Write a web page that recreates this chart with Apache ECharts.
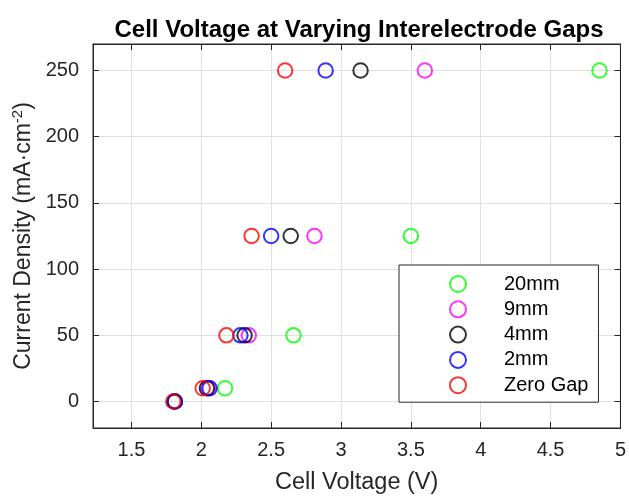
<!DOCTYPE html>
<html lang="en">
<head>
    <meta charset="UTF-8">
    <title>Cell Voltage at Varying Interelectrode Gaps</title>
    <script src="https://cdn.jsdelivr.net/npm/echarts@6/dist/echarts.min.js"></script>
    <style>
      html, body { margin: 0; padding: 0; background: #fff; }
      #main { width: 629px; height: 500px; }
    </style>
</head>
<body>
    <div id="main"></div>
    <script type="text/javascript">
      // current density levels (mA/cm2)
      var currentDensity = [0, 10, 50, 125, 250];
      // cell voltage (V) for each gap, same order as currentDensity
      var gap20mm = [1.81, 2.17, 2.66, 3.50, 4.85];
      var gap9mm = [1.81, 2.05, 2.34, 2.81, 3.60];
      var gap4mm = [1.81, 2.04, 2.31, 2.64, 3.14];
      var gap2mm = [1.81, 2.06, 2.28, 2.50, 2.89];
      var gapZero = [1.80, 2.01, 2.18, 2.36, 2.60];

      var seriesNames = ['20mm', '9mm', '4mm', '2mm', 'Zero Gap'];
      var seriesColors = ['#00ff00', '#ff00ff', '#000000', '#0000ff', '#ff0000'];
      var xTicks = [1.5, 2, 2.5, 3, 3.5, 4, 4.5, 5];
      var yTicks = [0, 50, 100, 150, 200, 250];

      var font = '"Liberation Sans", Arial, Helvetica, sans-serif';
      var axisColor = '#262626';

      function pairs(xs) {
        var out = [];
        for (var i = 0; i < xs.length; i++) {
          out.push([xs[i], currentDensity[i]]);
        }
        return out;
      }

      var allX = [gap20mm, gap9mm, gap4mm, gap2mm, gapZero];
      var series = [];
      for (var s = 0; s < allX.length; s++) {
        series.push({
          name: seriesNames[s],
          type: 'scatter',
          symbol: 'circle',
          symbolSize: 14.5,
          itemStyle: {
            color: 'transparent',
            borderColor: seriesColors[s],
            borderWidth: 2
          },
          emphasis: { disabled: true },
          data: pairs(allX[s])
        });
      }
      // empty series so the top/right box axes get drawn with their ticks
      series.push({ type: 'scatter', xAxisIndex: 1, yAxisIndex: 1, silent: true, data: [] });

      var myChart = echarts.init(document.getElementById('main'));

      var option = {
        animation: false,
        textStyle: { fontFamily: font },
        title: {
          text: 'Cell Voltage at Varying Interelectrode Gaps',
          left: 354,
          textAlign: 'center',
          top: 13,
          textStyle: { fontSize: 24, fontWeight: 'bold', color: '#000', fontFamily: font }
        },
        grid: {
          left: 93, right: 4, top: 44, bottom: 70,
          show: true, borderColor: axisColor, borderWidth: 1, backgroundColor: 'transparent'
        },
        legend: {
          orient: 'vertical',
          left: 399,
          top: 265,
          padding: [9, 10, 7, 50],
          itemWidth: 16,
          itemHeight: 16,
          itemGap: 5.3,
          borderColor: axisColor,
          borderWidth: 1,
          backgroundColor: '#fff',
          textStyle: { fontSize: 20, color: '#000', fontFamily: font, padding: [0, 0, 0, 33] },
          data: seriesNames
        },
        xAxis: [
          {
            type: 'value',
            min: 1.225,
            max: 5,
            name: 'Cell Voltage (V)',
            nameLocation: 'middle',
            nameGap: 43,
            nameTextStyle: { fontSize: 23.5, color: axisColor, fontFamily: font },
            axisLine: { show: true, onZero: false, lineStyle: { color: axisColor, width: 1 } },
            axisTick: { show: true, inside: true, length: 6, customValues: xTicks, lineStyle: { color: axisColor } },
            axisLabel: { customValues: xTicks, fontSize: 20, color: axisColor, margin: 12, fontFamily: font },
            splitLine: { show: true, lineStyle: { color: '#e0e0e0', width: 1 } }
          },
          {
            type: 'value',
            position: 'top',
            min: 1.225,
            max: 5,
            axisLine: { show: true, onZero: false, lineStyle: { color: axisColor, width: 1 } },
            axisTick: { show: true, inside: true, length: 6, customValues: xTicks, lineStyle: { color: axisColor } },
            axisLabel: { show: false },
            splitLine: { show: false }
          }
        ],
        yAxis: [
          {
            type: 'value',
            min: -20,
            max: 270,
            name: '{a|Current Density (mA·cm}{s|-2}{a|)}',
            nameLocation: 'middle',
            nameGap: 50,
            nameTextStyle: {
              fontFamily: font,
              color: axisColor,
              rich: {
                a: { fontSize: 23, color: axisColor, fontFamily: font },
                s: { fontSize: 15, color: axisColor, fontFamily: font, verticalAlign: 'bottom', padding: [0, 0, 10, 0] }
              }
            },
            axisLine: { show: true, onZero: false, lineStyle: { color: axisColor, width: 1 } },
            axisTick: { show: true, inside: true, length: 6, customValues: yTicks, lineStyle: { color: axisColor } },
            axisLabel: { customValues: yTicks, fontSize: 20, color: axisColor, margin: 14, fontFamily: font },
            splitLine: { show: true, lineStyle: { color: '#e0e0e0', width: 1 } }
          },
          {
            type: 'value',
            position: 'right',
            min: -20,
            max: 270,
            axisLine: { show: true, onZero: false, lineStyle: { color: axisColor, width: 1 } },
            axisTick: { show: true, inside: true, length: 6, customValues: yTicks, lineStyle: { color: axisColor } },
            axisLabel: { show: false },
            splitLine: { show: false }
          }
        ],
        series: series
      };

      myChart.setOption(option);
    </script>
</body>
</html>
